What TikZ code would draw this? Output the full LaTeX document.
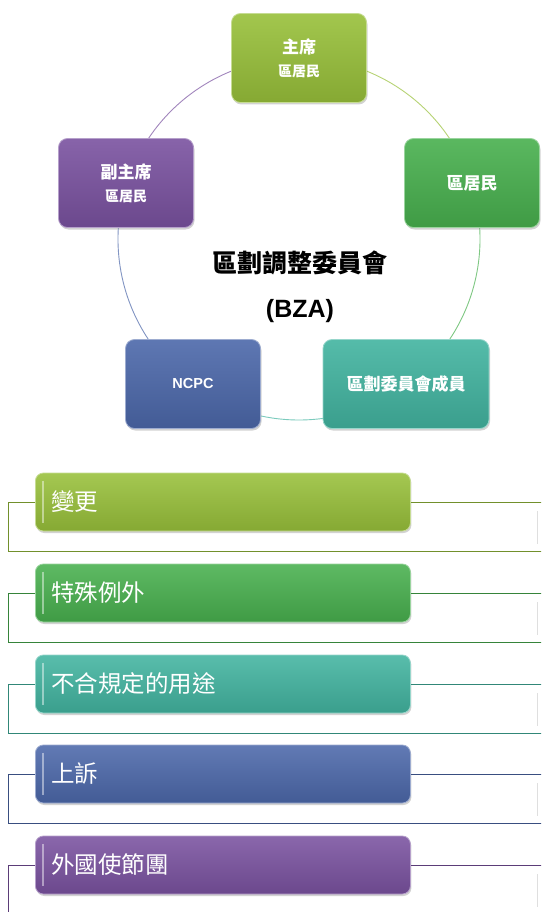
\documentclass[tikz,border=0pt]{standalone}
\usepackage{fontspec}
\setmainfont{Liberation Sans}
\newfontfamily\cjk{Noto Sans CJK TC}
\usetikzlibrary{shadows}
\definecolor{cOlive}{RGB}{152,192,58}
\definecolor{cGreen}{RGB}{72,176,78}
\definecolor{cTeal}{RGB}{66,180,160}
\definecolor{cBlue}{RGB}{76,104,170}
\definecolor{cPurple}{RGB}{122,82,160}
\begin{document}
\begin{tikzpicture}[x=1pt,y=-1pt,
  cyc/.style={draw=#1!55!white, line width=0.8pt, rounded corners=9pt,
    minimum width=135pt, minimum height=89pt, inner sep=2pt,
    top color=#1!90!white, bottom color=#1!88!black,
    text=white, align=center,
    drop shadow={shadow xshift=1pt,shadow yshift=-2pt,opacity=0.35}},
  bigt/.style={font=\cjk\bfseries\fontsize{17}{20}\selectfont},
  ring/.style={draw=#1!70!white, line width=0.9pt},
  bar/.style={draw=#1!55!white, line width=0.8pt, rounded corners=8pt,
    minimum height=58pt, text width=343pt, inner xsep=16pt, align=left,
    anchor=west, top color=#1!88!white, bottom color=#1!88!black,
    text=white, font=\cjk\fontsize{23.5}{27}\selectfont,
    drop shadow={shadow xshift=1pt,shadow yshift=-2pt,opacity=0.35}},
  brk/.style={draw=#1!75!black, line width=0.8pt},
  gloss/.style={draw=white, opacity=0.45, line width=1.2pt},
  faint/.style={draw=gray!25, line width=0.8pt}
]
\clip (0,0) rectangle (541,912);
\fill[white] (0,0) rectangle (541,912);

% ---- cycle ----
\coordinate (c) at (299,239);
\draw[ring=cOlive]  ([shift={(-90:181)}]c) arc[start angle=-90, end angle=-18, radius=181];
\draw[ring=cGreen]  ([shift={(-18:181)}]c) arc[start angle=-18, end angle=54, radius=181];
\draw[ring=cTeal]   ([shift={(54:181)}]c) arc[start angle=54, end angle=126, radius=181];
\draw[ring=cBlue]   ([shift={(126:181)}]c) arc[start angle=126, end angle=198, radius=181];
\draw[ring=cPurple] ([shift={(198:181)}]c) arc[start angle=198, end angle=270, radius=181];

\node[cyc=cOlive] (n1) at (299,58) {{\fontsize{17}{20}\selectfont\cjk\bfseries 主席}\\[9pt]{\fontsize{14}{17}\selectfont\cjk\bfseries 區居民}};
\node[cyc=cGreen, bigt] (n2) at (472,183) {區居民};
\node[cyc=cTeal, bigt, minimum width=166pt] (n3) at (406,384) {區劃委員會成員};
\node[cyc=cBlue, font=\bfseries\fontsize{14.5}{17}\selectfont] (n4) at (193,384) {NCPC};
\node[cyc=cPurple] (n5) at (126,183) {{\fontsize{17}{20}\selectfont\cjk\bfseries 副主席}\\[9pt]{\fontsize{14}{17}\selectfont\cjk\bfseries 區居民}};

\node[font=\cjk\bfseries\fontsize{25}{28}\selectfont] (title) at (300,263) {區劃調整委員會};
\node[font=\bfseries\fontsize{25}{28}\selectfont] (abbr) at (300,311) {(BZA)};

% ---- list ----
\foreach \i/\col/\yc/\txt in {1/cOlive/502/變更, 2/cGreen/593/特殊例外, 3/cTeal/684/不合規定的用途, 4/cBlue/774/上訴, 5/cPurple/865/外國使節團}{
  \coordinate (l\i) at (8,\yc);
  \coordinate (lb\i) at (8,\yc+49);
  \coordinate (rb\i) at (545,\yc+49);
  \coordinate (r\i) at (545,\yc);
  \draw[faint] (537,\yc+9) -- (537,\yc+42);
  \node[bar=\col] (b\i) at (35,\yc) {\txt};
  \draw[brk=\col] (b\i.west) -- (l\i) -- (lb\i) -- (rb\i);
  \draw[brk=\col] (b\i.east) -- (r\i);
  \draw[gloss] ([shift={(8,8)}]b\i.north west) -- ([shift={(8,-8)}]b\i.south west);
}
\end{tikzpicture}
\end{document}
